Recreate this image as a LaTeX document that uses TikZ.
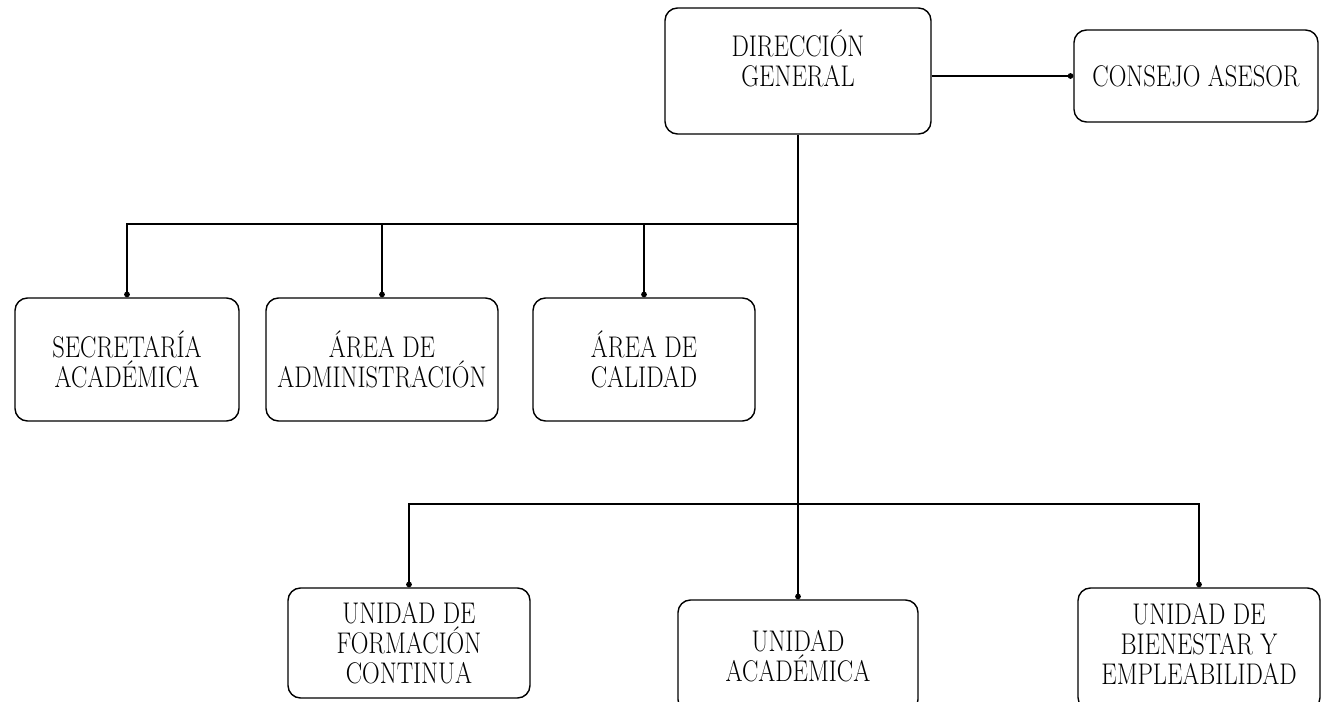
\documentclass[tikz,border=0pt]{standalone}
\usepackage{fontspec}
\setmainfont{Latin Modern Roman}[FakeStretch=0.82]
\usepackage{tikz}
\usetikzlibrary{arrows.meta,positioning}

\begin{document}
\begin{tikzpicture}[on grid,line width=0.8pt,-{Circle[length=3.2pt]}]
  \tikzstyle{unit}=[draw,rounded corners=0.25cm,align=center,inner sep=1pt,
    font=\fontsize{17}{17}\selectfont]
  \clip (0,0) rectangle (26.5,-14.04);
  \node[unit,minimum width=5.32cm,minimum height=2.52cm,text depth=0.5cm] (dg) at (15.96,-1.42) {DIRECCIÓN\\GENERAL};
  \node[unit,minimum width=4.88cm,minimum height=1.84cm] (ca) [below right=0.1cm and 7.96cm of dg] {CONSEJO ASESOR};
  \node[unit,minimum width=4.48cm,minimum height=2.46cm] (sa) [below left=5.77cm and 13.42cm of dg] {SECRETARÍA\\ACADÉMICA};
  \node[unit,minimum width=4.64cm,minimum height=2.46cm] (aa) [right=5.1cm of sa] {ÁREA DE\\ADMINISTRACIÓN};
  \node[unit,minimum width=4.44cm,minimum height=2.46cm] (ac) [right=5.24cm of aa] {ÁREA DE\\CALIDAD};
  \node[unit,minimum width=4.8cm,minimum height=2.24cm] (ua) [below=11.7cm of dg] {UNIDAD\\ACADÉMICA};
  \node[unit,minimum width=4.84cm,minimum height=2.2cm] (ufc) [above left=0.26cm and 7.78cm of ua] {UNIDAD DE\\FORMACIÓN\\CONTINUA};
  \node[unit,minimum width=4.84cm,minimum height=2.44cm,text depth=0.2cm] (ube) [above right=0.14cm and 8.02cm of ua] {UNIDAD DE\\BIENESTAR Y\\EMPLEABILIDAD};
  \coordinate (bus_1) at (15.96,-4.48);
  \coordinate (bus_2) at (15.96,-10.08);
    \draw (dg.east |- ca.west) -- (ca.west);
    \draw (dg.south) -- (ua.north);
    \draw (bus_1) -| (sa.north);
    \draw (bus_1) -| (aa.north);
    \draw (bus_1) -| (ac.north);
    \draw (bus_2) -| (ufc.north);
    \draw (bus_2) -| (ube.north);
\end{tikzpicture}
\end{document}
